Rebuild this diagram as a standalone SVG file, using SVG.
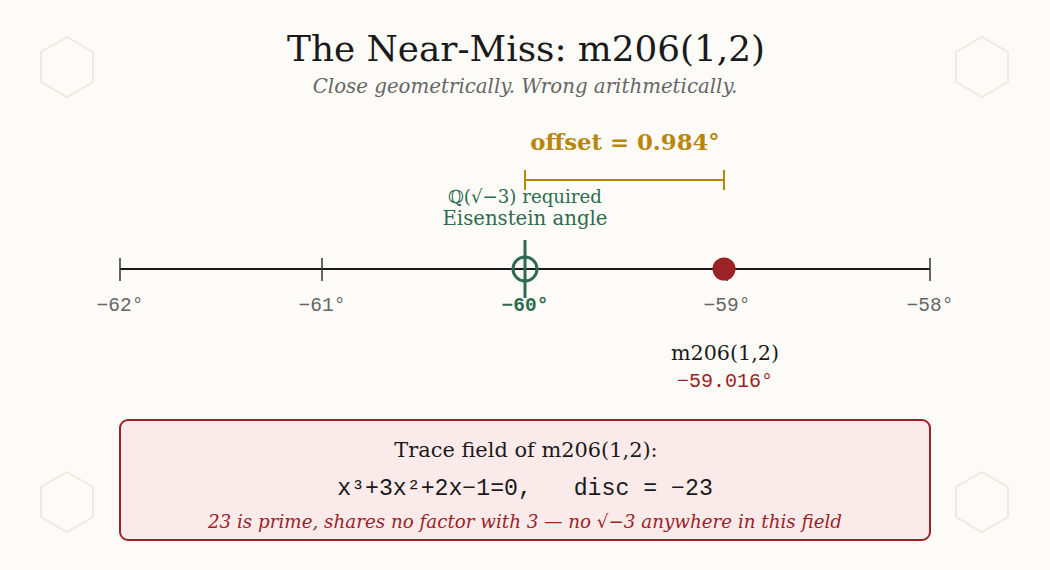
<svg xmlns="http://www.w3.org/2000/svg" width="1050" height="570" viewBox="0 0 1050 570">
<style>
.serif{font-family:"DejaVu Serif","Liberation Serif",serif}
.mono{font-family:"Liberation Mono","DejaVu Sans Mono",monospace}
.hex{fill:none;stroke:#efe9de;stroke-width:2}
.tick{stroke:#333;stroke-width:1.5}
.tl{font-size:19.5px;fill:#666;text-anchor:middle}
.green{fill:#2e6b4f}
</style>
<rect width="1050" height="570" fill="#fcfbf7"/>
<g id="decor">
<polygon class="hex" points="67,37 93,52 93,82 67,97 41,82 41,52"/>
<polygon class="hex" points="982,37 1008,52 1008,82 982,97 956,82 956,52"/>
<polygon class="hex" points="67,472 93,487 93,517 67,532 41,517 41,487"/>
<polygon class="hex" points="982,472 1008,487 1008,517 982,532 956,517 956,487"/>
</g>
<g id="title">
<text class="serif" x="526" y="61" font-size="35.8" fill="#1a1a1a" text-anchor="middle">The Near-Miss: m206(1,2)</text>
<text class="serif" x="525" y="93" font-size="19.8" font-style="italic" fill="#666" text-anchor="middle">Close geometrically. Wrong arithmetically.</text>
</g>
<g id="axis">
<line x1="120" y1="269" x2="930" y2="269" stroke="#1a1a1a" stroke-width="2"/>
<line class="tick" x1="120" y1="258" x2="120" y2="281"/>
<line class="tick" x1="322" y1="258" x2="322" y2="281"/>
<line class="tick" x1="727" y1="258" x2="727" y2="281"/>
<line class="tick" x1="930" y1="258" x2="930" y2="281"/>
<text class="mono tl" x="120" y="311">−62°</text>
<text class="mono tl" x="322" y="311">−61°</text>
<text class="mono tl" x="525" y="311" font-weight="bold" style="fill:#2e6b4f">−60°</text>
<text class="mono tl" x="727" y="311">−59°</text>
<text class="mono tl" x="930" y="311">−58°</text>
</g>
<g id="eisenstein">
<line x1="525" y1="240" x2="525" y2="298" stroke="#2e6b4f" stroke-width="3"/>
<circle cx="525" cy="269" r="12" fill="none" stroke="#2e6b4f" stroke-width="3"/>
<text class="serif green" x="525" y="203" font-size="18.2" text-anchor="middle">ℚ(√−3) required</text>
<text class="serif green" x="525" y="225" font-size="19.7" text-anchor="middle">Eisenstein angle</text>
</g>
<g id="m206">
<circle cx="724" cy="269" r="11.5" fill="#9b2226"/>
<text class="serif" x="725" y="360" font-size="20.7" fill="#1a1a1a" text-anchor="middle">m206(1,2)</text>
<text class="mono" x="725" y="387" font-size="20" fill="#9b2226" text-anchor="middle">−59.016°</text>
</g>
<g id="offset">
<path d="M525,180 H724 M525,170 V190 M724,170 V190" fill="none" stroke="#b8860b" stroke-width="2"/>
<text class="serif" x="625" y="150" font-size="22.8" font-weight="bold" fill="#b8860b" text-anchor="middle">offset = 0.984°</text>
</g>
<g id="tracebox">
<rect x="120" y="420" width="810" height="120" rx="8" fill="#fbeaea" stroke="#9b2226" stroke-width="2"/>
<text class="serif" x="526" y="457" font-size="20.9" fill="#1a1a1a" text-anchor="middle">Trace field of m206(1,2):</text>
<text class="mono" x="525" y="495" font-size="23.2" fill="#1a1a1a" text-anchor="middle" xml:space="preserve">x³+3x²+2x−1=0,   disc = −23</text>
<text class="serif" x="525" y="528" font-size="18.3" font-style="italic" fill="#9b2226" text-anchor="middle">23 is prime, shares no factor with 3 — no √−3 anywhere in this field</text>
</g>
</svg>
